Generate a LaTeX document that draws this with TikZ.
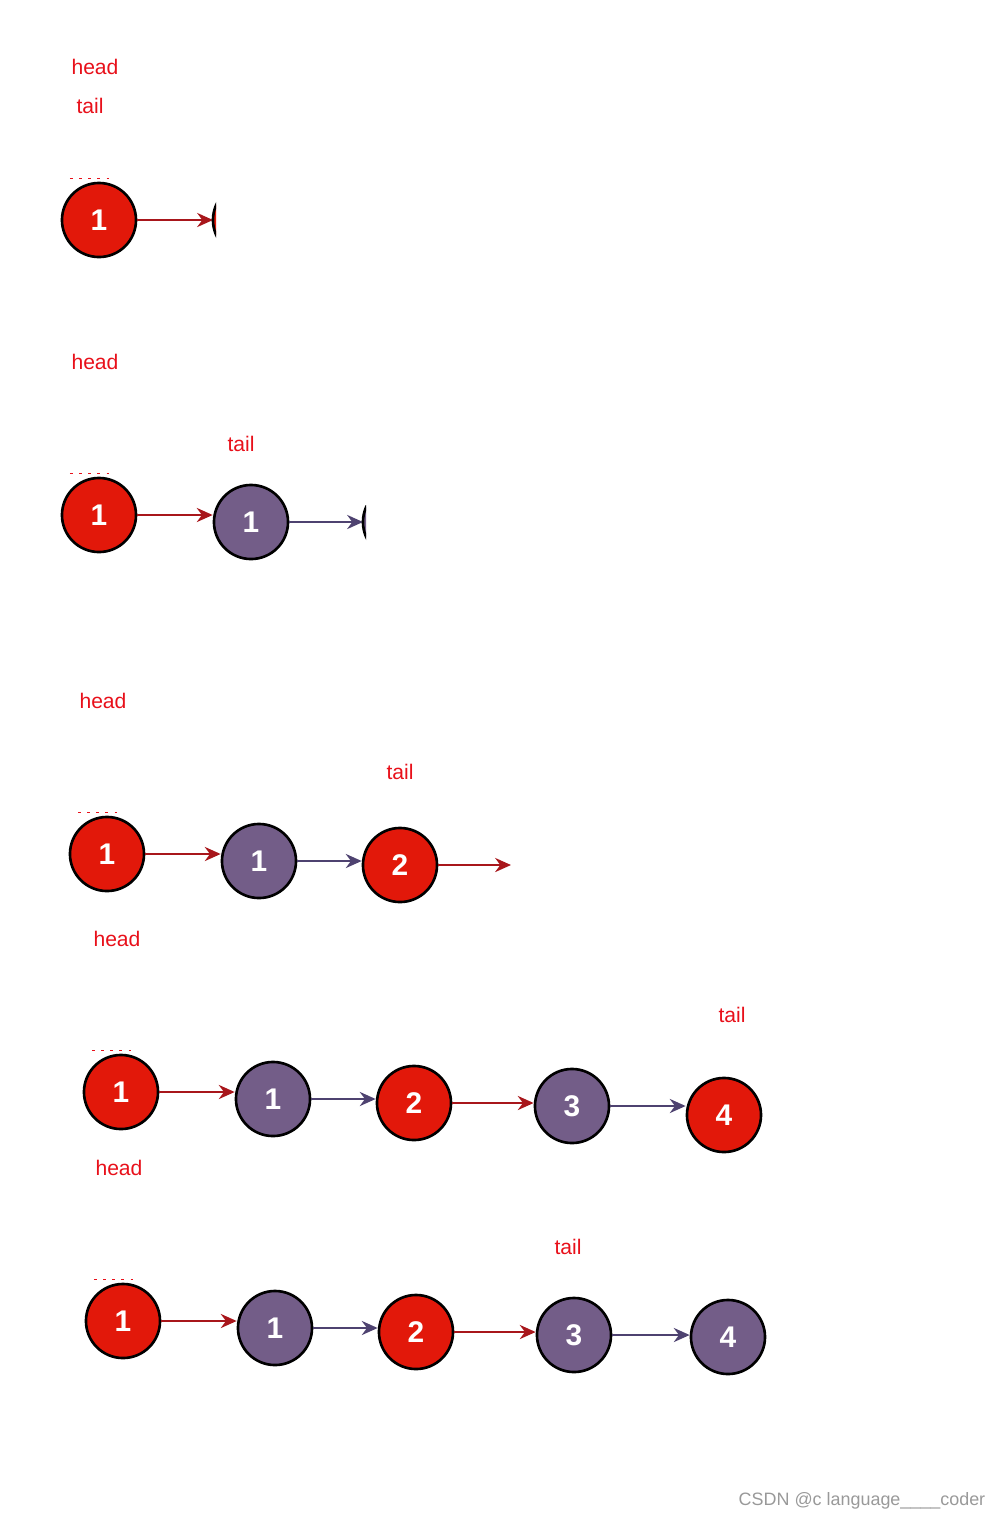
\documentclass[tikz,border=0pt]{standalone}
\usepackage{fontspec}
\setmainfont{Liberation Sans}
\usetikzlibrary{arrows.meta,positioning,calc}

\definecolor{nodered}{HTML}{E2180A}
\definecolor{nodepurple}{HTML}{735D88}
\definecolor{arrowred}{HTML}{A8161B}
\definecolor{arrowpurple}{HTML}{4E4270}
\definecolor{labelred}{HTML}{E8101A}

\begin{document}
\begin{tikzpicture}[
    x=0.01cm, y=-0.01cm,
    rednode/.style={circle, draw=black, line width=0.75pt, fill=nodered, minimum size=0.74cm, inner sep=0pt, text=white, font=\bfseries\fontsize{8.5}{9}\selectfont},
    purnode/.style={rednode, fill=nodepurple},
    lbl/.style={text=labelred, inner sep=0pt, font=\fontsize{6}{7}\selectfont},
    redarrow/.style={-{Stealth[length=4.5pt,width=4pt]}, draw=arrowred, line width=0.75pt},
    purarrow/.style={-{Stealth[length=4.5pt,width=4pt]}, draw=arrowpurple, line width=0.75pt},
    ticks/.style={draw=labelred, line width=0.4pt, dash pattern=on 0.8pt off 1.8pt}
]
\useasboundingbox (0,0) rectangle (1001,1520);

% first step
\node[lbl] (headA) at (95,67) {head};
\node[lbl] (tailA) at (90,106) {tail};
\node[rednode] (a1) at (99,220) {1};
\coordinate (aend) at (213,220);
\draw[ticks] ([xshift=-0.29cm,yshift=0.03cm]a1.north) -- ++(45,0);
\draw[redarrow] (a1) -- (aend);
\begin{scope}
  \clip (209,190) rectangle (216,250);
  \draw[fill=nodered, line width=0.75pt] (250,220) circle[radius=0.37cm];
\end{scope}

% second step
\node[lbl] (headB) at (95,362) {head};
\node[lbl] (tailB) at (241,444) {tail};
\node[rednode] (b1) at (99,515) {1};
\node[purnode] (b2) at (251,522) {1};
\coordinate (bend) at (363,522);
\draw[ticks] ([xshift=-0.29cm,yshift=0.03cm]b1.north) -- ++(45,0);
\draw[redarrow] (b1.east) -- (b1.east -| b2.west);
\draw[purarrow] (b2.east) -- (bend);
\begin{scope}
  \clip (361,505) rectangle (366,540);
  \draw[fill=nodepurple, line width=0.75pt] (400,522) circle[radius=0.37cm];
\end{scope}

% third step
\node[lbl] (headC) at (103,701) {head};
\node[lbl] (tailC) at (400,772) {tail};
\node[rednode] (c1) at (107,854) {1};
\node[purnode] (c2) at (259,861) {1};
\node[rednode] (c3) at (400,865) {2};
\coordinate (cend) at (511,865);
\draw[ticks] ([xshift=-0.29cm,yshift=0.03cm]c1.north) -- ++(45,0);
\draw[redarrow] (c1.east) -- (c1.east -| c2.west);
\draw[purarrow] (c2.east) -- (c2.east -| c3.west);
\draw[redarrow] (c3.east) -- (cend);

% fourth step
\node[lbl] (headD) at (117,939) {head};
\node[lbl] (tailD) at (732,1015) {tail};
\node[rednode] (d1) at (121,1092) {1};
\node[purnode] (d2) at (273,1099) {1};
\node[rednode] (d3) at (414,1103) {2};
\node[purnode] (d4) at (572,1106) {3};
\node[rednode] (d5) at (724,1115) {4};
\draw[ticks] ([xshift=-0.29cm,yshift=0.03cm]d1.north) -- ++(45,0);
\draw[redarrow] (d1.east) -- (d1.east -| d2.west);
\draw[purarrow] (d2.east) -- (d2.east -| d3.west);
\draw[redarrow] (d3.east) -- (d3.east -| d4.west);
\draw[purarrow] (d4.east) -- (d4.east -| d5.west);

% fifth step
\node[lbl] (headE) at (119,1168) {head};
\node[lbl] (tailE) at (568,1247) {tail};
\node[rednode] (e1) at (123,1321) {1};
\node[purnode] (e2) at (275,1328) {1};
\node[rednode] (e3) at (416,1332) {2};
\node[purnode] (e4) at (574,1335) {3};
\node[purnode] (e5) at (728,1337) {4};
\draw[ticks] ([xshift=-0.29cm,yshift=0.03cm]e1.north) -- ++(45,0);
\draw[redarrow] (e1.east) -- (e1.east -| e2.west);
\draw[purarrow] (e2.east) -- (e2.east -| e3.west);
\draw[redarrow] (e3.east) -- (e3.east -| e4.west);
\draw[purarrow] (e4.east) -- (e4.east -| e5.west);

\node[text=black!40, inner sep=0pt, font=\fontsize{5.1}{6}\selectfont] (mark) at (862,1501) {CSDN @c language\_\_\_\_coder};
\end{tikzpicture}
\end{document}
